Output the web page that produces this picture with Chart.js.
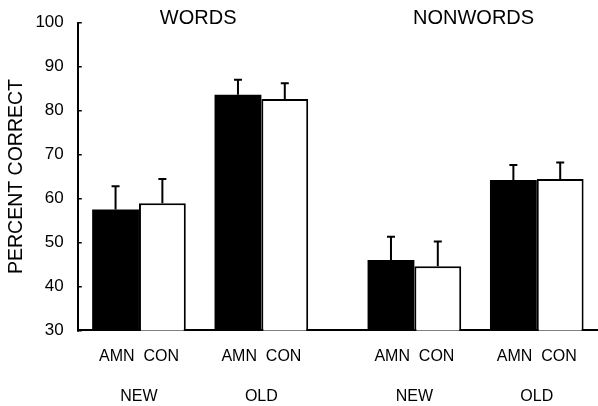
<!DOCTYPE html>
<html>
<head>
<meta charset="utf-8">
<title>Percent correct: words and nonwords</title>
<script src="https://cdn.jsdelivr.net/npm/chart.js@4"></script>
<style>
  html, body { margin: 0; padding: 0; background: #fff; }
  #wrap { width: 598px; height: 406px; position: relative; }
</style>
</head>
<body>
<div id="wrap"><canvas id="chart"></canvas></div>
<script>
// Data
const groups = ['WORDS', 'NONWORDS'];
const conditions = ['NEW', 'OLD', 'NEW', 'OLD'];
const subjects = ['AMN', 'CON'];
const amnValues = [57.5, 83.6, 46.0, 64.2];
const conValues = [58.9, 82.6, 44.6, 64.4];
const amnErrors = [5.3, 3.4, 5.3, 3.4];
const conErrors = [5.5, 3.6, 5.6, 3.8];

const FONT = "'Liberation Sans', Arial, Helvetica, sans-serif";
const INK = '#000';
const GROUP_GAP = 0.25; // extra space between WORDS and NONWORDS

// position of condition i on the x scale (two conditions per group)
function slot(i) {
    return i + GROUP_GAP * Math.floor(i / 2);
}

// Error bars (upward only)
const errorBars = {
    id: 'errorBars',
    afterDatasetsDraw(chart) {
        const ctx = chart.ctx;
        const yScale = chart.scales.y;
        chart.data.datasets.forEach(function(ds, di) {
            const meta = chart.getDatasetMeta(di);
            meta.data.forEach(function(bar, i) {
                const top = yScale.getPixelForValue(ds.data[i].y + ds.errors[i]);
                ctx.save();
                ctx.strokeStyle = '#000';
                ctx.lineWidth = 2;
                ctx.beginPath();
                ctx.moveTo(bar.x, bar.y);
                ctx.lineTo(bar.x, top);
                ctx.moveTo(bar.x - 4, top);
                ctx.lineTo(bar.x + 4, top);
                ctx.stroke();
                ctx.restore();
            });
        });
    }
};

// WORDS / NONWORDS headings above each pair of conditions
const groupTitles = {
    id: 'groupTitles',
    afterDraw(chart) {
        const ctx = chart.ctx;
        const xScale = chart.scales.x;
        ctx.save();
        ctx.fillStyle = INK;
        ctx.font = '20px ' + FONT;
        ctx.textAlign = 'center';
        ctx.textBaseline = 'middle';
        groups.forEach(function(name, g) {
            const mid = (slot(g * 2) + slot(g * 2 + 1)) / 2;
            ctx.fillText(name, xScale.getPixelForValue(mid) - 2, 18);
        });
        ctx.restore();
    }
};

const ctx = document.getElementById('chart').getContext('2d');
const chart = new Chart(ctx, {
    type: 'bar',
    data: {
        datasets: [{
            label: subjects[0],
            data: amnValues.map(function(v, i) { return { x: slot(i), y: v }; }),
            errors: amnErrors,
            backgroundColor: '#000',
            borderWidth: 0
        }, {
            label: subjects[1],
            data: conValues.map(function(v, i) { return { x: slot(i), y: v }; }),
            errors: conErrors,
            backgroundColor: '#fff',
            borderColor: '#000',
            borderWidth: 2,
            borderSkipped: 'bottom'
        }]
    },
    options: {
        responsive: true,
        maintainAspectRatio: false,
        animation: false,
        categoryPercentage: 0.765,
        barPercentage: 1.0,
        layout: {
            padding: { top: 22.5, right: 0, bottom: 0, left: 0 }
        },
        plugins: {
            legend: { display: false },
            tooltip: { enabled: false }
        },
        scales: {
            x: {
                type: 'linear',
                min: -0.5,
                max: 3.75,
                offset: false,
                afterBuildTicks: function(axis) {
                    axis.ticks = conditions.map(function(c, i) { return { value: slot(i) }; });
                },
                ticks: {
                    autoSkip: false,
                    maxRotation: 0,
                    padding: 0,
                    color: INK,
                    font: { family: FONT, size: 16, lineHeight: 1.23 },
                    callback: function(value, index) {
                        return [subjects.join('  '), '', conditions[index]];
                    }
                },
                // tick marks hidden; tickLength only sets the gap above the labels
                grid: { display: false, drawTicks: true, tickLength: 16.5 },
                border: { color: '#000', width: 2 }
            },
            y: {
                min: 30,
                max: 100,
                ticks: {
                    stepSize: 10,
                    padding: 18,
                    color: INK,
                    font: { family: FONT, size: 17, lineHeight: 0.25 }
                },
                grid: {
                    drawOnChartArea: false,
                    tickLength: -4,
                    color: '#000',
                    lineWidth: 1.5
                },
                border: { color: '#000', width: 2 },
                title: {
                    display: true,
                    text: 'PERCENT CORRECT',
                    color: INK,
                    font: { family: FONT, size: 19.5 },
                    padding: { top: 5, bottom: -11 }
                }
            }
        }
    },
    plugins: [errorBars, groupTitles]
});
</script>
</body>
</html>
